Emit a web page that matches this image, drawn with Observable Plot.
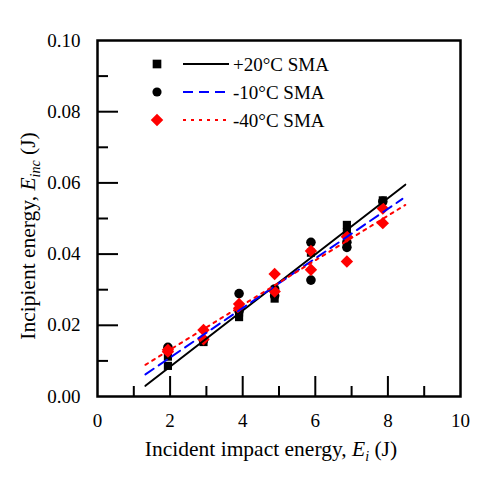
<!DOCTYPE html>
<html>
<head>
<meta charset="utf-8">
<script src="https://cdn.jsdelivr.net/npm/d3@7"></script>
<script src="https://cdn.jsdelivr.net/npm/@observablehq/plot@0.6"></script>
<style>
  html, body { margin: 0; padding: 0; background: #fff; }
  #chart { width: 481px; height: 499px; }
  #chart svg text, #chart svg tspan { font-family: "Liberation Serif", "Times New Roman", serif !important; }
</style>
</head>
<body>
<div id="chart"></div>
<script>
// ---- Data ----
const series = ["+20°C SMA", "-10°C SMA", "-40°C SMA"];

const energy20 = [1.94, 1.94, 2.92, 3.90, 3.90, 4.88, 5.88, 6.87, 6.87, 7.86];
const inc20    = [0.0086, 0.0112, 0.0153, 0.0223, 0.0236, 0.0275, 0.0404, 0.0462, 0.0482, 0.0551];

const energy10 = [1.94, 2.92, 3.90, 3.90, 4.88, 4.88, 5.88, 5.88, 6.87, 6.87, 7.86];
const inc10    = [0.0138, 0.0158, 0.0289, 0.0240, 0.0302, 0.0283, 0.0433, 0.0327, 0.0433, 0.0419, 0.0548];

const energy40 = [1.94, 1.94, 2.92, 2.92, 3.90, 3.90, 4.88, 4.88, 5.88, 5.88, 6.87, 6.87, 7.86, 7.86];
const inc40    = [0.0131, 0.0126, 0.0187, 0.0161, 0.0260, 0.0248, 0.0344, 0.0295, 0.0409, 0.0356, 0.0449, 0.0379, 0.0528, 0.0487];

// fitted trend lines (end points)
const fitX20 = [1.32, 8.48], fitY20 = [0.0030, 0.0595];
const fitX10 = [1.32, 8.40], fitY10 = [0.0062, 0.0555];
const fitX40 = [1.32, 8.48], fitY40 = [0.0089, 0.0538];

const xTickLabels = [0, 2, 4, 6, 8, 10];
const yTickLabels = [0, 0.02, 0.04, 0.06, 0.08, 0.10];
const xMinor = [1, 3, 5, 7, 9];
const xMajor = [2, 4, 6, 8];
const yMinor = [0.01, 0.03, 0.05, 0.07, 0.09];
const yMajor = [0.02, 0.04, 0.06, 0.08];

// ---- Build ----
const W = 481, H = 499;
const mL = 97, mR = 21, mT = 40, mB = 103;
const pw = W - mL - mR, ph = H - mT - mB;
const font = "Liberation Serif, Times New Roman, serif";

const pts = (xs, ys) => xs.map((x, i) => ({x, y: ys[i]}));

const plot = Plot.plot({
  width: W, height: H,
  marginLeft: mL, marginRight: mR, marginTop: mT, marginBottom: mB,
  x: {domain: [0, 10], axis: null},
  y: {domain: [0, 0.1], axis: null},
  marks: [
    // inner ticks
    Plot.tickX(xMajor, {x: d => d, stroke: "black", strokeWidth: 2, insetTop: ph - 20}),
    Plot.tickX(xMinor, {x: d => d, stroke: "black", strokeWidth: 2, insetTop: ph - 10}),
    Plot.tickY(yMajor, {y: d => d, stroke: "black", strokeWidth: 2, insetRight: pw - 21}),
    Plot.tickY(yMinor, {y: d => d, stroke: "black", strokeWidth: 2, insetRight: pw - 11}),
    // tick labels
    Plot.text(xTickLabels, {x: d => d, frameAnchor: "bottom", dy: 30, text: d => String(d), fontSize: 19, fill: "black"}),
    Plot.text(yTickLabels, {y: d => d, frameAnchor: "left", dx: -17, textAnchor: "end", text: d => d.toFixed(2), fontSize: 19, fill: "black"}),
    // markers
    Plot.dot(pts(energy20, inc20), {x: "x", y: "y", symbol: "square", r: 4.6, fill: "black"}),
    Plot.dot(pts(energy10, inc10), {x: "x", y: "y", symbol: "circle", r: 4.8, fill: "black"}),
    Plot.dot(pts(energy40, inc40), {x: "x", y: "y", symbol: "diamond2", r: 5.6, fill: "#ff0000"}),
    // trend lines
    Plot.line(pts(fitX20, fitY20), {x: "x", y: "y", stroke: "black", strokeWidth: 2}),
    Plot.line(pts(fitX10, fitY10), {x: "x", y: "y", stroke: "#0000ff", strokeWidth: 2, strokeDasharray: "10,6"}),
    Plot.line(pts(fitX40, fitY40), {x: "x", y: "y", stroke: "#ff0000", strokeWidth: 2, strokeDasharray: "3,5"}),
    Plot.frame({stroke: "black", strokeWidth: 2.5})
  ]
});

document.getElementById("chart").appendChild(plot);

// ---- Legend & axis titles ----
const svg = d3.select(plot).attr("font-family", font);
const lg = svg.append("g").attr("font-family", font).attr("font-size", 19).attr("text-anchor", "start");
const rowY = [64, 92, 120];
const symbols = [d3.symbolSquare, d3.symbolCircle, d3.symbolDiamond2];
const symSize = [75, 66, 100];
const fills = ["black", "black", "#ff0000"];
const strokes = ["black", "#0000ff", "#ff0000"];
const dashes = [null, "10,6", "3,5"];
series.forEach((name, i) => {
  lg.append("path").attr("d", d3.symbol(symbols[i], symSize[i])())
    .attr("transform", `translate(157,${rowY[i]})`).attr("fill", fills[i]);
  lg.append("line").attr("x1", 183).attr("x2", 229).attr("y1", rowY[i]).attr("y2", rowY[i])
    .attr("stroke", strokes[i]).attr("stroke-width", 2).attr("stroke-dasharray", dashes[i]);
  lg.append("text").attr("x", 233).attr("y", rowY[i]).attr("dy", "0.35em")
    .attr("text-anchor", "start").text(name);
});

// x title
const xt = svg.append("text").attr("x", 271).attr("y", 448).attr("dy", "0.35em")
  .attr("text-anchor", "middle").attr("font-size", 21.5);
xt.append("tspan").text("Incident impact energy, ");
xt.append("tspan").attr("font-style", "italic").text("E");
xt.append("tspan").attr("font-style", "italic").attr("font-size", 14).attr("dy", 5).text("i");
xt.append("tspan").attr("dy", -5).text(" (J)");

// y title
const yt = svg.append("text").attr("transform", "translate(27,236) rotate(-90)").attr("dy", "0.35em")
  .attr("text-anchor", "middle").attr("font-size", 21.5);
yt.append("tspan").text("Incipient energy, ");
yt.append("tspan").attr("font-style", "italic").text("E");
yt.append("tspan").attr("font-style", "italic").attr("font-size", 14).attr("dy", 5).text("inc");
yt.append("tspan").attr("dy", -5).text(" (J)");
</script>
</body>
</html>
